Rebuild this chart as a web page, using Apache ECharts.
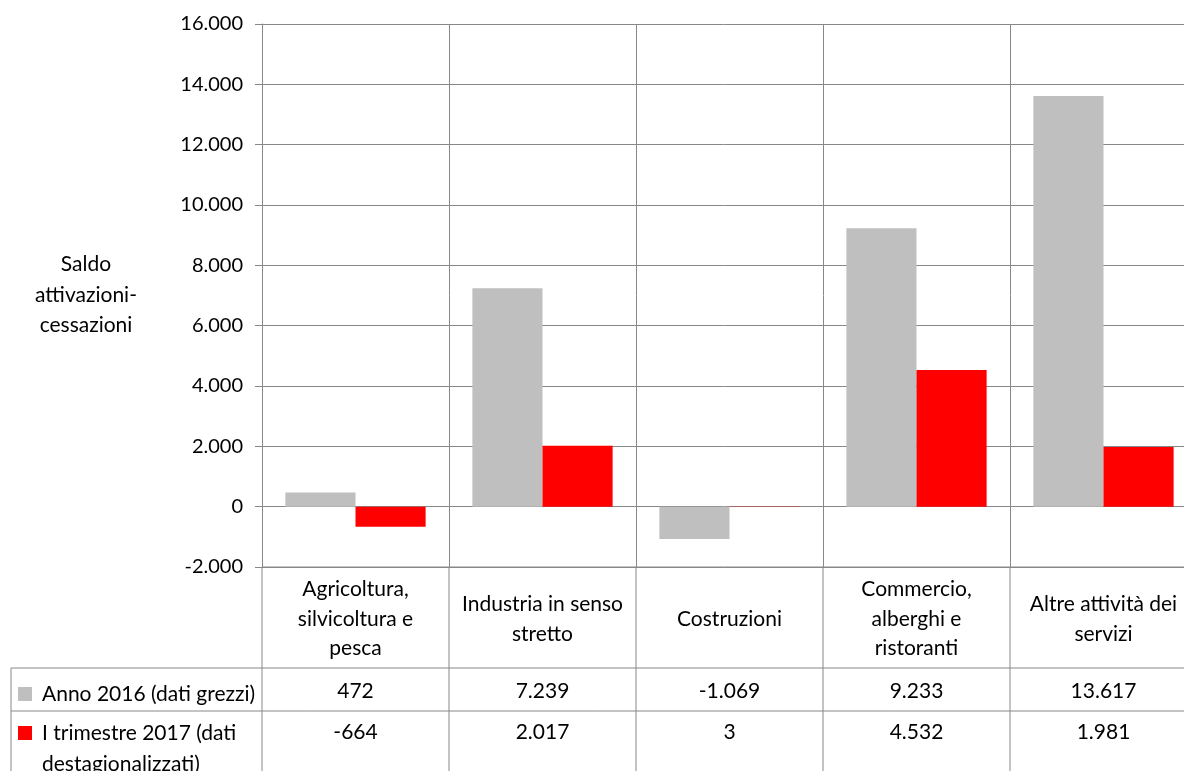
<!DOCTYPE html>
<html>
<head>
<meta charset="utf-8">
<style>html,body{margin:0;padding:0;background:#fff;}#c{width:1184px;height:771px;}</style>
<script src="https://cdn.jsdelivr.net/npm/echarts@6/dist/echarts.min.js"></script>
</head>
<body>
<div id="c"></div>
<script>
const categories = ["Agricoltura, silvicoltura e pesca", "Industria in senso stretto", "Costruzioni", "Commercio, alberghi e ristoranti", "Altre attività dei servizi"];
const categoryLabels = ["Agricoltura,\nsilvicoltura e\npesca", "Industria in senso\nstretto", "Costruzioni", "Commercio,\nalberghi e\nristoranti", "Altre attività dei\nservizi"];
const seriesNames = ["Anno 2016 (dati grezzi)", "I trimestre 2017 (dati destagionalizzati)"];
const legendLabels = ["Anno 2016 (dati grezzi)", "I trimestre 2017 (dati\ndestagionalizzati)"];
const anno2016 = [472, 7239, -1069, 9233, 13617];
const trim2017 = [-664, 2017, 3, 4532, 1981];
const yTicks = { min: -2000, max: 16000, interval: 2000 };

const FONT = 'Lato';
const FS = 21;
const FSY = 20;
const TXT = '#000';
const LINE = '#888';
const GL = 262, CW = 187, GT = 24, GB = 567, H = 771, W = 1184;
const ROW1 = 668, ROW2 = 711;

function fmt(v) {
  const s = Math.abs(v).toString().replace(/\B(?=(\d{3})+(?!\d))/g, '.');
  return (v < 0 ? '-' : '') + s;
}

const chart = echarts.init(document.getElementById('c'));

const graphics = [];
for (let i = 0; i <= 5; i++) {
  graphics.push({ type: 'line', shape: { x1: GL + i * CW, y1: GB, x2: GL + i * CW, y2: H }, style: { stroke: LINE, lineWidth: 1 }, silent: true });
}
[ROW1, ROW2].forEach(y => {
  graphics.push({ type: 'line', shape: { x1: 11, y1: y, x2: W, y2: y }, style: { stroke: LINE, lineWidth: 1 }, silent: true });
});
graphics.push({ type: 'line', shape: { x1: 11, y1: ROW1, x2: 11, y2: H }, style: { stroke: LINE, lineWidth: 1 }, silent: true });
graphics.push({ type: 'line', shape: { x1: GL, y1: GB, x2: W, y2: GB }, style: { stroke: LINE, lineWidth: 1 }, silent: true });
const keyColors = ['#BFBFBF', '#FF0000'];
const keyY = [687, 726];
legendLabels.forEach((t, i) => {
  graphics.push({ type: 'rect', shape: { x: 18, y: keyY[i], width: 14, height: 14 }, style: { fill: keyColors[i] }, silent: true });
  graphics.push({ type: 'text', x: 42, y: keyY[i] + 7 - 15.5, style: { text: t, font: FS + 'px ' + FONT, fill: TXT, textAlign: 'left', textVerticalAlign: 'top', lineHeight: 31 }, silent: true });
});
graphics.push({ type: 'text', x: 86, y: 295, style: { text: 'Saldo\nattivazioni-\ncessazioni', font: FS + 'px ' + FONT, fill: TXT, textAlign: 'center', textVerticalAlign: 'middle', lineHeight: 30.5 }, silent: true });

function rowAxis(vals, margin) {
  return {
    type: 'category', data: categories, position: 'bottom', gridIndex: 0,
    axisLine: { show: false, onZero: false }, axisTick: { show: false }, splitLine: { show: false },
    axisLabel: { interval: 0, margin: margin, verticalAlign: 'middle', color: TXT, fontFamily: FONT, fontSize: FS,
      formatter: (v, idx) => fmt(vals[idx]) }
  };
}

chart.setOption({
  animation: false,
  grid: { left: GL, top: GT, width: CW * 5, height: GB - GT, containLabel: false, outerBoundsMode: 'none' },
  graphic: graphics,
  xAxis: [
    {
      type: 'category', data: categories, position: 'bottom',
      axisLine: { show: false, onZero: false }, axisTick: { show: false },
      splitLine: { show: true, lineStyle: { color: LINE, width: 1 } },
      axisLabel: { interval: 0, margin: 52, verticalAlign: 'middle', align: 'center', color: TXT, fontFamily: FONT, fontSize: FS, lineHeight: 29.5,
        formatter: (v, idx) => categoryLabels[idx] }
    },
    rowAxis(anno2016, 124),
    rowAxis(trim2017, 165)
  ],
  yAxis: {
    type: 'value', min: yTicks.min, max: yTicks.max, interval: yTicks.interval,
    axisLine: { show: true, lineStyle: { color: LINE, width: 1 } },
    axisTick: { show: true, length: 7, lineStyle: { color: LINE } },
    splitLine: { show: true, lineStyle: { color: LINE, width: 1 } },
    axisLabel: { margin: 19, color: TXT, fontFamily: FONT, fontSize: FSY, formatter: v => fmt(v) }
  },
  series: [
    { name: seriesNames[0], type: 'bar', data: anno2016, itemStyle: { color: '#BFBFBF' }, barGap: '0%', barCategoryGap: '25%' },
    { name: seriesNames[1], type: 'bar', data: trim2017, itemStyle: { color: '#FF0000' }, barGap: '0%', barCategoryGap: '25%' }
  ]
});
</script>
</body>
</html>
